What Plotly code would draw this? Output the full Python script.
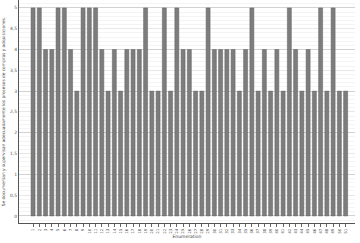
import plotly.graph_objects as go

categories = [str(i) for i in range(1, 52)]
values = [5, 5, 4, 4, 5, 5, 4, 3, 5, 5,
          5, 4, 3, 4, 3, 4, 4, 4, 5, 3,
          3, 5, 3, 5, 4, 4, 3, 3, 5, 4,
          4, 4, 4, 3, 4, 5, 3, 4, 3, 4,
          3, 5, 4, 3, 4, 3, 5, 3, 5, 3,
          3]
y_tickvals = [0, 0.5, 1, 1.5, 2, 2.5, 3, 3.5, 4, 4.5, 5]
y_ticktext = ["0", "0,5", "1", "1,5", "2", "2,5", "3", "3,5", "4", "4,5", "5"]

fig = go.Figure()
fig.add_trace(go.Bar(
    x=categories, y=values,
    marker=dict(color="#7d7d7d", line=dict(color="#5e5e5e", width=0.5)),
    hoverinfo="x+y",
))
# overlay axis for integer gridlines
fig.add_trace(go.Scatter(x=[categories[0]], y=[0], yaxis="y2", mode="markers",
                         marker=dict(opacity=0), showlegend=False, hoverinfo="skip"))

yr = [-0.17, 5.19]
fig.update_layout(
    width=360, height=243,
    margin=dict(l=19, r=5, t=0, b=20),
    paper_bgcolor="white", plot_bgcolor="white",
    showlegend=False,
    bargap=0.36,
    font=dict(family="DejaVu Sans", color="#444"),
    xaxis=dict(
        type="category",
        range=[-2.25, 51.5],
        showgrid=False,
        showline=True, linecolor="#555", linewidth=1,
        ticks="outside", ticklen=3, tickcolor="#666", tickwidth=0.6,
        tickangle=-90,
        tickfont=dict(size=4, color="#555"),
        title=dict(text="Enumeration", font=dict(size=4.5, color="#444"), standoff=2),
        zeroline=False,
    ),
    yaxis=dict(
        range=yr,
        tickvals=y_tickvals, ticktext=y_ticktext,
        showgrid=True, gridcolor="#e8e8e8", gridwidth=1,
        minor=dict(dtick=0.1, showgrid=True, gridcolor="#f4f4f4", gridwidth=1),
        showline=True, linecolor="#555", linewidth=1,
        ticks="", tickfont=dict(size=4.5, color="#555"),
        zeroline=False,
        title=dict(text="Se documentan y supervisan adecuadamente los procesos de compras y adquisiciones.",
                   font=dict(size=4.3, color="#444"), standoff=4),
    ),
    yaxis2=dict(
        range=yr, overlaying="y", side="left",
        dtick=1, tick0=0,
        showgrid=True, gridcolor="#d2d2d2", gridwidth=1,
        showticklabels=False, showline=False, zeroline=False,
    ),
)
fig.write_html("out.html")
